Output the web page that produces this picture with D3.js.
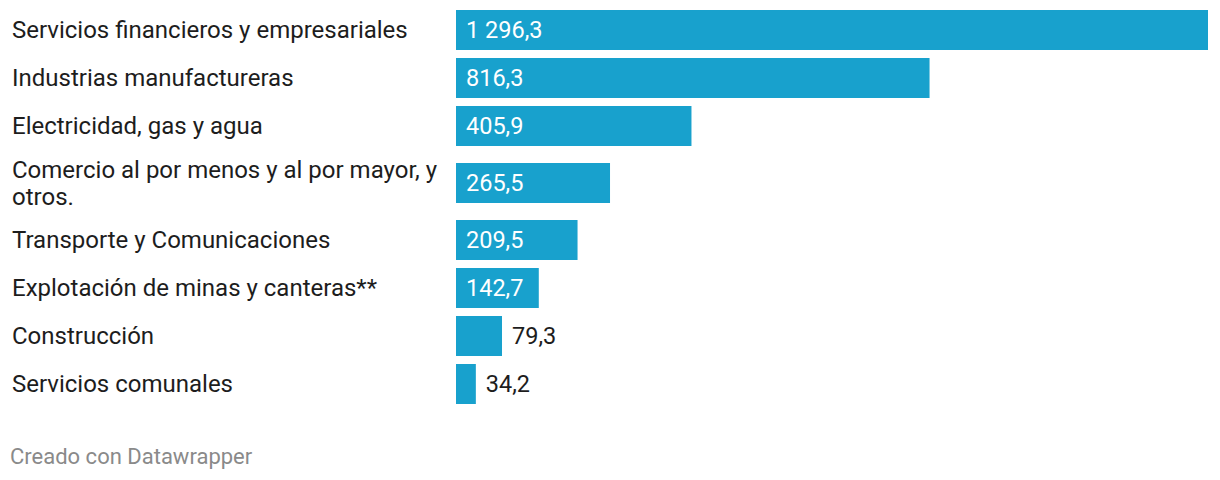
<!DOCTYPE html>
<html><head><meta charset="utf-8">
<script src="https://cdn.jsdelivr.net/npm/d3@7"></script>
<style>
body{margin:0;background:#fff;}
text{font-family:Roboto,"Noto Sans",sans-serif;}
</style></head>
<body><svg id="c" width="1220" height="480"></svg>
<script>
const categories = ["Servicios financieros y empresariales","Industrias manufactureras","Electricidad, gas y agua","Comercio al por menos y al por mayor, y otros.","Transporte y Comunicaciones","Explotación de minas y canteras**","Construcción","Servicios comunales"];
const values = [1296.3,816.3,405.9,265.5,209.5,142.7,79.3,34.2];
const footer = "Creado con Datawrapper";

const svg = d3.select("#c");
const labelX = 12, barX = 456, barEnd = 1208, labelW = 432;
const barH = 40, gap = 8, lineH = 26.5, fs = 24, vfs = 23.5;
const x = d3.scaleLinear().domain([0, d3.max(values)]).range([barX, barEnd]);
const loc = d3.formatLocale({decimal:",", thousands:" ", grouping:[3], currency:["",""]});
const fmt = loc.format(",.1f");

const meas = svg.append("text").attr("font-size", fs).attr("visibility","hidden");
function wrap(s){
  const words = s.split(" "); const lines=[]; let cur="";
  for(const w of words){
    const t = cur ? cur+" "+w : w;
    meas.text(t);
    if(meas.node().getComputedTextLength() > labelW && cur){ lines.push(cur); cur=w; } else cur=t;
  }
  lines.push(cur); return lines;
}
const rows = categories.map((c,i)=>({c, v:values[i], lines:wrap(c)}));
meas.remove();
let y = 10;
rows.forEach(r=>{
  r.h = Math.max(barH, Math.round(r.lines.length*lineH + 5));
  r.by = y + Math.floor((r.h - barH)/2); r.cy = r.by + barH/2;
  y += r.h + gap;
});
const g = svg.append("g");
rows.forEach(r=>{
  g.append("rect").attr("x", x(0)).attr("y", r.by).attr("width", x(r.v)-x(0)).attr("height", barH).attr("fill", "#18a1cd");
  const t = g.append("text").attr("x", labelX).attr("font-size", fs).attr("fill", "#1d1d1d");
  const n = r.lines.length;
  r.lines.forEach((l,j)=>{
    t.append("tspan").attr("x", labelX).attr("y", r.cy + (j - (n-1)/2)*lineH).attr("dy","0.35em").text(l);
  });
  const txt = fmt(r.v);
  const vt = g.append("text").attr("font-size", vfs).attr("y", r.cy).attr("dy","0.35em").text(txt);
  const w = vt.node().getComputedTextLength();
  const bw = x(r.v)-x(0);
  if (w + 20 <= bw) vt.attr("x", x(0)+10).attr("fill","#fff");
  else vt.attr("x", x(r.v)+10).attr("fill","#1d1d1d");
});
svg.append("text").attr("x", 10).attr("y", 464).attr("font-size", 22).attr("fill", "#8a8a8a").text(footer);
</script></body></html>
